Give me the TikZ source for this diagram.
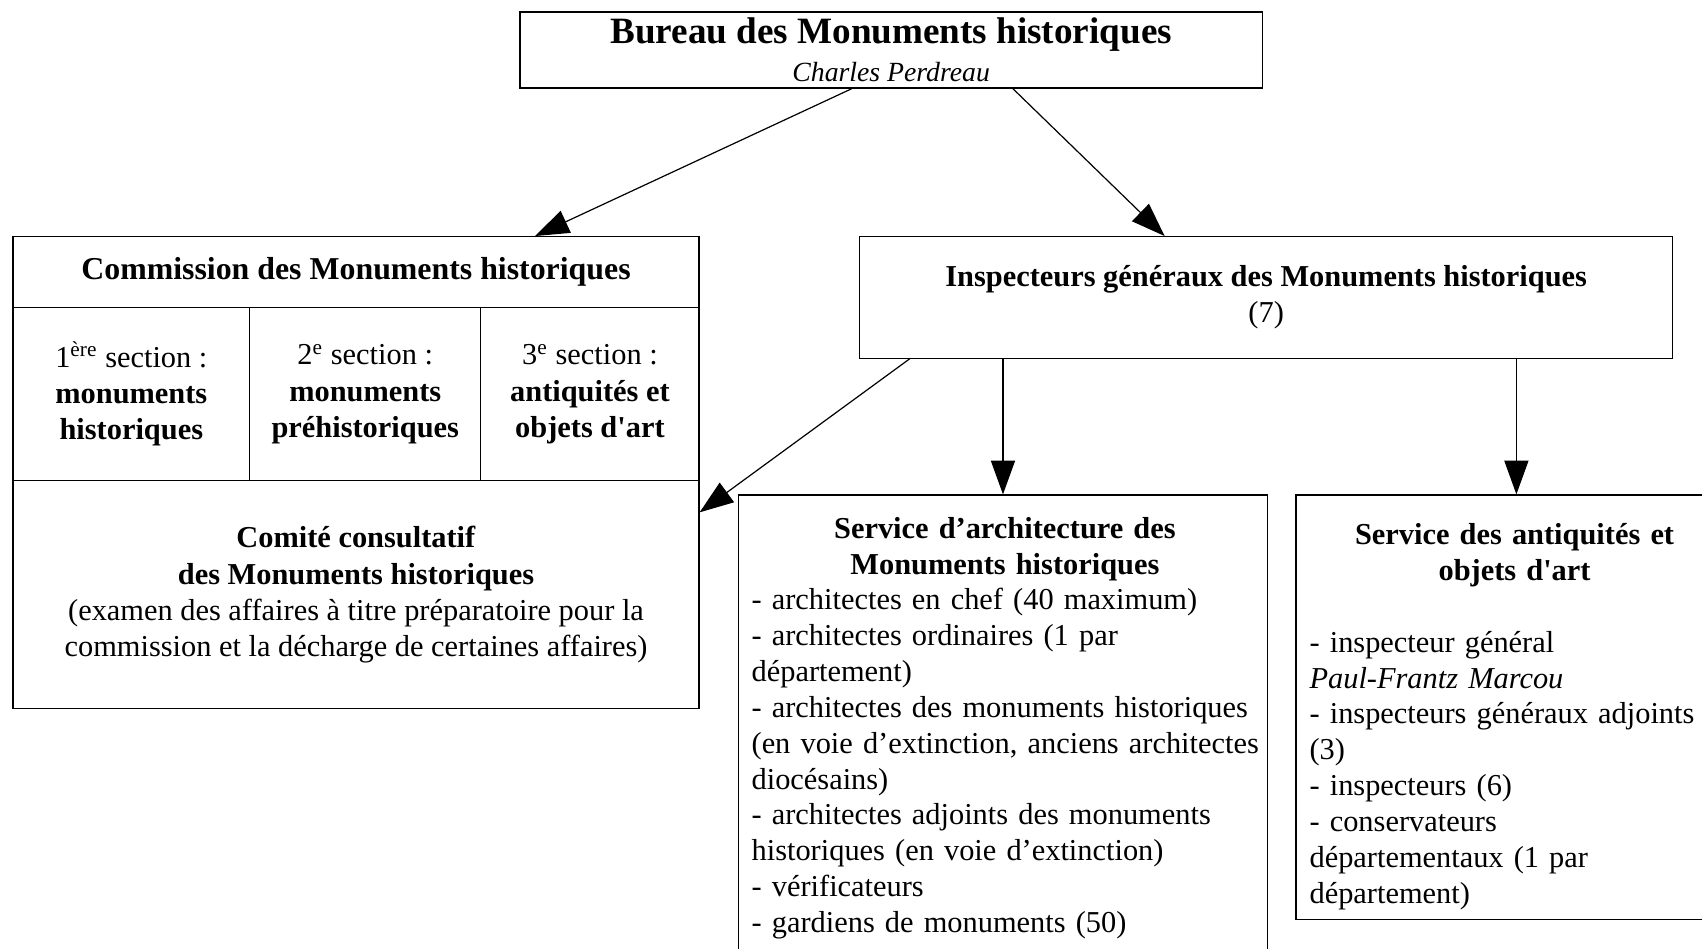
\documentclass[tikz,border=0pt]{standalone}
\usepackage{fontspec}
\setmainfont{Liberation Serif}
\usetikzlibrary{positioning,arrows.meta}

\begin{document}
\begin{tikzpicture}[x=0.45pt,y=-0.45pt,
    box/.style={draw,line width=0.5pt,inner sep=0pt,align=center,font=\fontsize{12.6}{15}\selectfont},
    txt/.style={inner sep=0pt,font=\fontsize{12.6}{14.85}\selectfont},
    arr/.style={line width=0.5pt,-{Triangle[length=14pt,width=10pt]}}]
  \useasboundingbox (0,0) rectangle (1568,874);
  % top
  \node[box,minimum width=307.8pt,minimum height=31.5pt,font=\fontsize{12}{15.75}\selectfont](bureau) at (821,46)
    {{\fontsize{15.4}{16}\selectfont\bfseries Bureau des Monuments historiques}\\{\fontsize{11.5}{13}\selectfont\itshape Charles Perdreau}};
  % commission
  \node[box,minimum width=284.4pt,minimum height=29.25pt,font=\fontsize{13.2}{15}\selectfont\bfseries](commission) at (328,250.5)
    {Commission des Monuments historiques};
  \node[box,minimum width=98.1pt,minimum height=72pt](sec1) at (121,363)
    {1\textsuperscript{ère} section :\\\textbf{monuments}\\\textbf{historiques}};
  \node[box,minimum width=95.85pt,minimum height=72pt](sec2) at (336.5,363)
    {2\textsuperscript{e} section :\\\textbf{monuments}\\\textbf{préhistoriques}};
  \node[box,minimum width=90.45pt,minimum height=72pt](sec3) at (543.5,363)
    {3\textsuperscript{e} section :\\\textbf{antiquités et}\\\textbf{objets d\textquotesingle art}};
  \node[box,minimum width=284.4pt,minimum height=94.5pt](comite) at (328,548)
    {\textbf{Comité consultatif}\\\textbf{des Monuments historiques}\\(examen des affaires à titre préparatoire pour la\\commission et la décharge de certaines affaires)};
  % inspecteurs
  \node[box,minimum width=337.05pt,minimum height=50.4pt](inspecteurs) at (1166.5,274)
    {\textbf{Inspecteurs généraux des Monuments historiques}\\(7)};
  % services
  \node[box,minimum width=219.6pt,minimum height=199.8pt](archi) at (924,678) {};
  \node[txt,text width=240pt,anchor=north west](architxt) at (692,476)
    {\hbox to 210pt{\hfil\bfseries Service d’architecture des\hfil}\par
    \hbox to 210pt{\hfil\bfseries Monuments historiques\hfil}\par\raggedright
    - architectes en chef (40 maximum)\\
    - architectes ordinaires (1 par\\département)\\
    - architectes des monuments historiques\\(en voie d’extinction, anciens architectes\\diocésains)\\
    - architectes adjoints des monuments\\historiques (en voie d’extinction)\\
    - vérificateurs\\
    - gardiens de monuments (50)};
  \node[box,minimum width=182.7pt,minimum height=175.95pt](antiq) at (1397,651.5) {};
  \node[txt,text width=200pt,anchor=north west](antiqtxt) at (1206,482)
    {\hbox to 170pt{\hfil\bfseries Service des antiquités et\hfil}\par
    \hbox to 170pt{\hfil\bfseries objets d\textquotesingle art\hfil}\par\raggedright
    \vspace{14.85pt}
    - inspecteur général\\
    \textit{Paul-Frantz Marcou}\\
    - inspecteurs généraux adjoints\\(3)\\
    - inspecteurs (6)\\
    - conservateurs\\départementaux (1 par\\département)};
  % arrows
  \draw[arr] ([xshift=-16.2pt]bureau.south) -- ([xshift=74.25pt]commission.north);
  \draw[arr] ([xshift=50.4pt]bureau.south) -- ([xshift=-42.1pt]inspecteurs.north);
  \draw[arr] ([xshift=-147.8pt]inspecteurs.south) -- ([yshift=34.2pt]comite.east);
  \draw[arr] (inspecteurs.south -| archi.north) -- (archi.north);
  \draw[arr] (inspecteurs.south -| antiq.north) -- (antiq.north);
\end{tikzpicture}
\end{document}
